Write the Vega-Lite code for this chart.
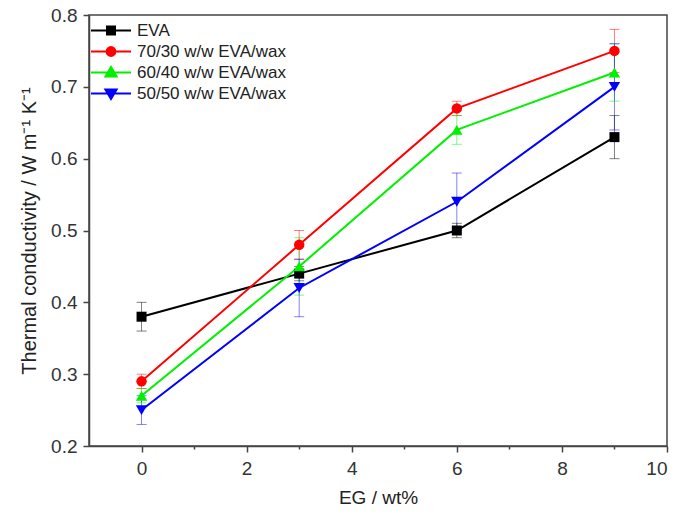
{
  "$schema": "https://vega.github.io/schema/vega-lite/v6.json",
  "width": 578,
  "height": 431,
  "autosize": {"type": "none"},
  "padding": {"left": 89, "top": 15, "right": 8, "bottom": 67},
  "background": "white",
  "config": {
    "font": "Liberation Sans",
    "view": {"stroke": "#444", "strokeWidth": 1.5},
    "axis": {
      "grid": false,
      "domainColor": "#444",
      "domainWidth": 1.5,
      "tickColor": "#444",
      "tickWidth": 1.5,
      "labelFont": "Liberation Sans",
      "labelFontSize": 19,
      "labelColor": "#333",
      "titleFont": "Liberation Sans",
      "titleFontSize": 19,
      "titleFontWeight": "normal",
      "titleColor": "#222"
    }
  },
  "data": {
    "values": [
      {"series": "EVA", "x": 0, "y": 0.38, "lo": 0.36, "hi": 0.40},
      {"series": "EVA", "x": 3, "y": 0.44, "lo": 0.43, "hi": 0.45},
      {"series": "EVA", "x": 6, "y": 0.50, "lo": 0.49, "hi": 0.51},
      {"series": "EVA", "x": 9, "y": 0.63, "lo": 0.60, "hi": 0.66},
      {"series": "70/30 w/w EVA/wax", "x": 0, "y": 0.29, "lo": 0.28, "hi": 0.30},
      {"series": "70/30 w/w EVA/wax", "x": 3, "y": 0.48, "lo": 0.46, "hi": 0.50},
      {"series": "70/30 w/w EVA/wax", "x": 6, "y": 0.67, "lo": 0.66, "hi": 0.68},
      {"series": "70/30 w/w EVA/wax", "x": 9, "y": 0.75, "lo": 0.72, "hi": 0.78},
      {"series": "60/40 w/w EVA/wax", "x": 0, "y": 0.27, "lo": 0.26, "hi": 0.28},
      {"series": "60/40 w/w EVA/wax", "x": 3, "y": 0.45, "lo": 0.41, "hi": 0.49},
      {"series": "60/40 w/w EVA/wax", "x": 6, "y": 0.64, "lo": 0.62, "hi": 0.66},
      {"series": "60/40 w/w EVA/wax", "x": 9, "y": 0.72, "lo": 0.68, "hi": 0.76},
      {"series": "50/50 w/w EVA/wax", "x": 0, "y": 0.25, "lo": 0.23, "hi": 0.27},
      {"series": "50/50 w/w EVA/wax", "x": 3, "y": 0.42, "lo": 0.38, "hi": 0.46},
      {"series": "50/50 w/w EVA/wax", "x": 6, "y": 0.54, "lo": 0.50, "hi": 0.58},
      {"series": "50/50 w/w EVA/wax", "x": 9, "y": 0.70, "lo": 0.64, "hi": 0.76}
    ]
  },
  "encoding": {
    "x": {
      "field": "x",
      "type": "quantitative",
      "scale": {"domain": [-1, 10], "nice": false, "zero": false},
      "axis": {
        "title": "EG / wt%",
        "values": [0, 1, 2, 3, 4, 5, 6, 7, 8, 9, 10],
        "labelExpr": "datum.value % 2 == 0 ? datum.label : ''",
        "tickSize": {"condition": {"test": "datum.value % 2 != 0", "value": 3}, "value": 6},
        "labelPadding": 7,
        "titlePadding": 10
      }
    }
  },
  "layer": [
    {
      "mark": {"type": "rule", "strokeWidth": 1, "opacity": 0.5},
      "encoding": {
        "y": {"field": "lo", "type": "quantitative", "title": "Thermal conductivity / W m⁻¹ K⁻¹",
          "scale": {"domain": [0.2, 0.8], "nice": false, "zero": false},
          "axis": {
            "values": [0.2, 0.25, 0.3, 0.35, 0.4, 0.45, 0.5, 0.55, 0.6, 0.65, 0.7, 0.75, 0.8],
            "labelExpr": "round(datum.value*100) % 10 == 0 ? format(datum.value, '.1f') : ''",
            "tickSize": {"condition": {"test": "round(datum.value*100) % 10 != 0", "value": 3}, "value": 6},
            "labelPadding": 6,
            "titlePadding": 11,
            "titleFontSize": 20
          }
        },
        "y2": {"field": "hi"},
        "color": {"field": "series", "type": "nominal", "legend": null,
          "scale": {"domain": ["50/50 w/w EVA/wax", "60/40 w/w EVA/wax", "70/30 w/w EVA/wax", "EVA"], "range": ["#0000ff", "#00f000", "#ff0000", "#000000"]}}
      }
    },
    {
      "mark": {"type": "tick", "orient": "horizontal", "size": 10, "thickness": 1, "opacity": 0.5},
      "encoding": {
        "y": {"field": "lo", "type": "quantitative", "title": "Thermal conductivity / W m⁻¹ K⁻¹"},
        "color": {"field": "series", "type": "nominal", "legend": null}
      }
    },
    {
      "mark": {"type": "tick", "orient": "horizontal", "size": 10, "thickness": 1, "opacity": 0.5},
      "encoding": {
        "y": {"field": "hi", "type": "quantitative", "title": "Thermal conductivity / W m⁻¹ K⁻¹"},
        "color": {"field": "series", "type": "nominal", "legend": null}
      }
    },
    {
      "mark": {"type": "line", "strokeWidth": 2},
      "encoding": {
        "y": {"field": "y", "type": "quantitative", "title": "Thermal conductivity / W m⁻¹ K⁻¹"},
        "color": {"field": "series", "type": "nominal", "legend": null}
      }
    },
    {
      "transform": [{"filter": "datum.series == 'EVA'"}],
      "mark": {"type": "point", "filled": true, "opacity": 1, "shape": "square", "size": 100},
      "encoding": {
        "y": {"field": "y", "type": "quantitative", "title": "Thermal conductivity / W m⁻¹ K⁻¹"},
        "color": {"field": "series", "type": "nominal", "legend": null}
      }
    },
    {
      "transform": [{"filter": "datum.series == '70/30 w/w EVA/wax'"}],
      "mark": {"type": "point", "filled": true, "opacity": 1, "shape": "circle", "size": 110},
      "encoding": {
        "y": {"field": "y", "type": "quantitative", "title": "Thermal conductivity / W m⁻¹ K⁻¹"},
        "color": {"field": "series", "type": "nominal", "legend": null}
      }
    },
    {
      "transform": [{"filter": "datum.series == '60/40 w/w EVA/wax'"}],
      "mark": {"type": "point", "filled": true, "opacity": 1, "shape": "triangle-up", "size": 130},
      "encoding": {
        "y": {"field": "y", "type": "quantitative", "title": "Thermal conductivity / W m⁻¹ K⁻¹"},
        "color": {"field": "series", "type": "nominal", "legend": null}
      }
    },
    {
      "transform": [{"filter": "datum.series == '50/50 w/w EVA/wax'"}],
      "mark": {"type": "point", "filled": true, "opacity": 1, "shape": "triangle-down", "size": 130},
      "encoding": {
        "y": {"field": "y", "type": "quantitative", "title": "Thermal conductivity / W m⁻¹ K⁻¹"},
        "color": {"field": "series", "type": "nominal", "legend": null}
      }
    },
    {
      "mark": {"type": "point", "filled": false, "opacity": 0},
      "encoding": {
        "y": {"field": "y", "type": "quantitative", "title": "Thermal conductivity / W m⁻¹ K⁻¹"},
        "stroke": {"field": "series", "type": "nominal",
          "scale": {"domain": ["EVA", "70/30 w/w EVA/wax", "60/40 w/w EVA/wax", "50/50 w/w EVA/wax"], "range": ["#000000", "#ff0000", "#00f000", "#0000ff"]},
          "legend": {
            "title": " ",
            "titleFontSize": 4,
            "titlePadding": 0,
            "orient": "top-left",
            "offset": 1,
            "padding": 0,
            "symbolSize": 1600,
            "symbolStrokeWidth": 2,
            "symbolOpacity": 1,
            "clipHeight": 21,
            "rowPadding": 0,
            "labelOffset": 5,
            "labelFont": "Liberation Sans",
            "labelFontSize": 17,
            "labelColor": "#222"
          }
        },
        "shape": {"field": "series", "type": "nominal",
          "scale": {"domain": ["EVA", "70/30 w/w EVA/wax", "60/40 w/w EVA/wax", "50/50 w/w EVA/wax"],
            "range": [
              "M-1,0H1M-0.2,-0.2H0.2V0.2H-0.2ZM-0.2,-0.12H0.2M-0.2,-0.04H0.2M-0.2,0.04H0.2M-0.2,0.12H0.2",
              "M-1,0H1M-0.22,0A0.22,0.22 0 1,0 0.22,0A0.22,0.22 0 1,0 -0.22,0ZM-0.205,-0.08H0.205M-0.151,-0.16H0.151M-0.205,0.08H0.205M-0.151,0.16H0.151",
              "M-1,0H1M0,-0.28L0.28,0.2L-0.28,0.2ZM-0.047,-0.2H0.047M-0.093,-0.12H0.093M-0.14,-0.04H0.14M-0.187,0.04H0.187M-0.233,0.12H0.233",
              "M-1,0H1M0,0.28L0.28,-0.2L-0.28,-0.2ZM-0.047,0.2H0.047M-0.093,0.12H0.093M-0.14,0.04H0.14M-0.187,-0.04H0.187M-0.233,-0.12H0.233"
            ]}
        }
      }
    }
  ]
}
